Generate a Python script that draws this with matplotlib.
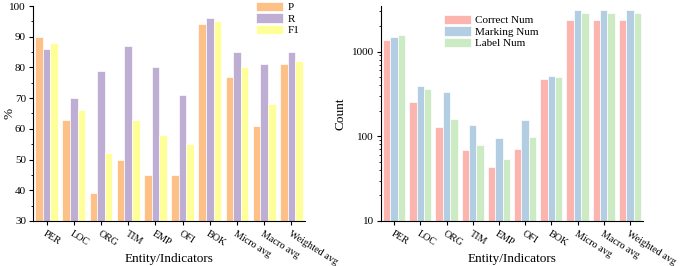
import matplotlib
matplotlib.use("Agg")
import matplotlib.pyplot as plt
import numpy as np
from matplotlib.ticker import MultipleLocator, LogLocator, NullFormatter

plt.rcParams['font.family'] = ['Liberation Serif', 'DejaVu Serif']

categories = ["PER", "LOC", "ORG", "TIM", "EMP", "OFI", "BOK", "Micro avg", "Macro avg", "Weighted avg"]
P = [90, 63, 39, 50, 45, 45, 94, 77, 61, 81]
R = [86, 70, 79, 87, 80, 71, 96, 85, 81, 85]
F1 = [88, 66, 52, 63, 58, 55, 95, 80, 68, 82]

correct_num = [1355, 251, 128, 68, 43, 70, 479, 2360, 2360, 2360]
marking_num = [1497, 393, 329, 137, 95, 156, 520, 3100, 3100, 3100]
label_num = [1580, 357, 162, 78, 54, 98, 506, 2840, 2840, 2840]

fig = plt.figure(figsize=(6.85, 2.66), dpi=100)
W, H = 685, 266
BOT = 221
ax1 = fig.add_axes([33 / W, 1 - BOT / H, 272 / W, (BOT - 6) / H])
ax2 = fig.add_axes([381 / W, 1 - BOT / H, 262 / W, (BOT - 6) / H])

x = np.arange(len(categories))
w = 0.28

def style(ax):
    ax.spines['top'].set_visible(False)
    ax.spines['right'].set_visible(False)
    ax.spines['left'].set_linewidth(0.8)
    ax.spines['bottom'].set_linewidth(0.8)
    ax.tick_params(direction='out', length=3, width=0.8, labelsize=8, pad=2)
    ax.tick_params(which='minor', direction='out', length=1.8, width=0.6)
    ax.set_xticks(x)
    ax.set_xticklabels(categories, rotation=-32, ha='left', rotation_mode='anchor', fontsize=7.3)
    ax.tick_params(axis='x', pad=3)
    ax.set_xlim(-0.5, len(categories) - 0.5)
    ax.set_xlabel("Entity/Indicators", fontsize=9.5, labelpad=0)
    ax.xaxis.set_label_coords(0.5, -0.15)

cols1 = ["#fdc086", "#beaed4", "#ffff99"]
for i, (vals, lab) in enumerate(zip([P, R, F1], ["P", "R", "F1"])):
    ax1.bar(x + (i - 1) * w, vals, width=w, color=cols1[i], edgecolor='white', linewidth=0.5, label=lab, zorder=2)
ax1.set_ylim(30, 100)
ax1.yaxis.set_major_locator(MultipleLocator(10))
ax1.yaxis.set_minor_locator(MultipleLocator(5))
ax1.set_ylabel("%", fontsize=9.5)
style(ax1)
ax1.yaxis.set_label_coords(-0.065, 0.5)
ax1.legend(loc='upper left', bbox_to_anchor=(0.80, 1.045), frameon=False, fontsize=8,
           handlelength=2.4, handleheight=0.9, labelspacing=0.1, borderpad=0, handletextpad=0.4)

cols2 = ["#fbb4ae", "#b3cde3", "#ccebc5"]
for i, (vals, lab) in enumerate(zip([correct_num, marking_num, label_num], ["Correct Num", "Marking Num", "Label Num"])):
    ax2.bar(x + (i - 1) * w, vals, width=w, color=cols2[i], edgecolor='white', linewidth=0.5, label=lab, zorder=2)
ax2.set_yscale('log')
ax2.set_ylim(10, 3450)
ax2.yaxis.set_minor_locator(LogLocator(base=10, subs=np.arange(2, 10), numticks=20))
ax2.yaxis.set_minor_formatter(NullFormatter())
ax2.set_yticks([10, 100, 1000])
ax2.set_yticklabels(["10", "100", "1000"])
ax2.set_ylabel("Count", fontsize=9.5)
style(ax2)
ax2.yaxis.set_label_coords(-0.13, 0.5)
ax2.legend(loc='upper left', bbox_to_anchor=(0.22, 0.985), frameon=False, fontsize=8,
           handlelength=2.4, handleheight=0.9, labelspacing=0.1, borderpad=0, handletextpad=0.4)

fig.savefig("out.png", dpi=100)
